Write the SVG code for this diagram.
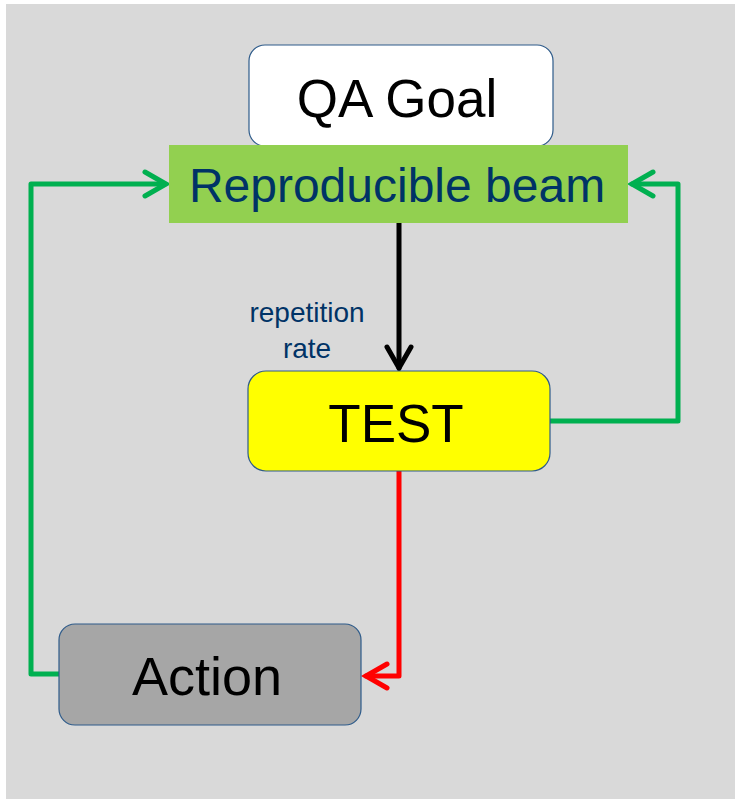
<svg xmlns="http://www.w3.org/2000/svg" width="735" height="799" viewBox="0 0 735 799">
  <style>
    .box { stroke: #2e5b8a; stroke-width: 1.2; }
    .lbl { font-family: "Liberation Sans", Arial, sans-serif; text-anchor: middle; }
    .wire { fill: none; stroke-width: 5; stroke-linecap: round; stroke-linejoin: round; }
    .head { fill: none; stroke-width: 5; stroke-linecap: round; stroke-linejoin: miter; }
  </style>
  <rect x="6" y="4" width="729" height="795" fill="#d9d9d9"/>

  <g id="connectors">
    <!-- Reproducible beam -> TEST -->
    <path class="wire" stroke="#000000" d="M399 223 V368"/>
    <path class="head" stroke="#000000" d="M387 347 L399 368 L411 347"/>
    <!-- TEST -> Action -->
    <path class="wire" stroke="#ff0000" d="M399 471 V676 H366"/>
    <path class="head" stroke="#ff0000" d="M387 664 L366 676 L387 688"/>
    <!-- TEST -> Reproducible beam (right loop) -->
    <path class="wire" stroke="#00b050" d="M550 421 H678 V184 H632"/>
    <path class="head" stroke="#00b050" d="M653 172 L632 184 L653 196"/>
    <!-- Action -> Reproducible beam (left loop) -->
    <path class="wire" stroke="#00b050" d="M59 674 H31 V184 H165"/>
    <path class="head" stroke="#00b050" d="M145 172 L166 184 L145 196"/>
  </g>

  <g id="qa-goal">
    <rect class="box" x="249" y="45" width="304" height="101" rx="16" fill="#ffffff"/>
    <text class="lbl" x="397" y="117" font-size="53" fill="#000000">QA Goal</text>
  </g>

  <g id="reproducible-beam">
    <rect x="169" y="145" width="459" height="78" fill="#92d050"/>
    <text class="lbl" x="397" y="202" font-size="48" fill="#003366">Reproducible beam</text>
  </g>

  <g id="repetition-rate">
    <text class="lbl" x="307" y="322" font-size="28" fill="#003366">repetition</text>
    <text class="lbl" x="307" y="358" font-size="28" fill="#003366">rate</text>
  </g>

  <g id="test">
    <rect class="box" x="248" y="371" width="302" height="100" rx="18" fill="#ffff00"/>
    <text class="lbl" x="396" y="442" font-size="53" fill="#000000">TEST</text>
  </g>

  <g id="action">
    <rect class="box" x="59" y="624" width="302" height="101" rx="16" fill="#a6a6a6"/>
    <text class="lbl" x="207" y="695" font-size="54" fill="#000000">Action</text>
  </g>
</svg>
